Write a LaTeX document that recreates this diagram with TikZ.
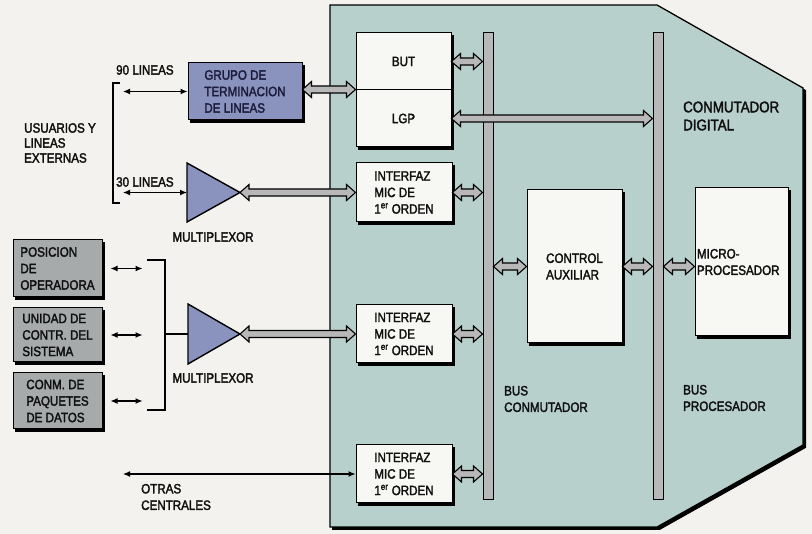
\documentclass[tikz,border=0pt]{standalone}
\usepackage{fontspec}
\setmainfont{Liberation Sans}[FakeStretch=0.86,FakeBold=2.2]
\usetikzlibrary{arrows.meta,calc}
\definecolor{bg}{HTML}{F3F2EE}
\definecolor{panel}{HTML}{B8D0CC}
\definecolor{boxw}{HTML}{F7F7F3}
\definecolor{blueg}{HTML}{8A93BE}
\definecolor{grayb}{HTML}{A7AAAB}
\definecolor{busg}{HTML}{B8B8B8}
\definecolor{navy}{HTML}{1C1C3C}
\definecolor{ink}{HTML}{101010}
\begin{document}
\begin{tikzpicture}[x=1pt,y=-1pt,
  lbl/.style={font=\fontsize{13.5}{16.5}\selectfont, align=left, inner sep=0pt, text=ink},
  sh/.style={preaction={fill=black, draw=black, line width=1pt, line join=miter, transform canvas={xshift=2.5pt,yshift=-2.5pt}}},
  boxbase/.style={draw=black, line width=1pt, sh, inner sep=0pt, align=left, text=ink,
    font=\fontsize{13.5}{16.5}\selectfont},
  wbox/.style={boxbase, fill=boxw},
  gbox/.style={boxbase, fill=grayb, minimum width=89pt},
  bbox/.style={boxbase, fill=blueg, text=navy},
  bus/.style={draw=black, line width=1pt, fill=busg, minimum width=10pt, minimum height=467pt, inner sep=0pt},
  mux/.style={draw=black, line width=1.4pt, fill=blueg, line join=miter},
  brk/.style={draw=black, line width=1.2pt},
  thinarr/.style={draw=black, line width=1.2pt, {Latex[length=7pt,width=6pt]}-{Latex[length=7pt,width=6pt]}},
  fat/.style={draw=black, line width=1.1pt, fill=busg, line join=miter,
    to path={let \p1=(\tikztostart), \p2=(\tikztotarget) in
      (\x1,\y1) -- (\x1+9pt,\y1+8pt) -- (\x1+9pt,\y1+3.5pt) -- (\x2-9pt,\y1+3.5pt) -- (\x2-9pt,\y1+8pt)
      -- (\x2,\y1) -- (\x2-9pt,\y1-8pt) -- (\x2-9pt,\y1-3.5pt) -- (\x1+9pt,\y1-3.5pt) -- (\x1+9pt,\y1-8pt) -- cycle}}
]
\fill[bg] (0,0) rectangle (812,534);
\useasboundingbox (0,0) rectangle (812,534);

% main panel
\draw[fill=panel, line width=1.3pt, line join=miter, sh]
  (330,5) -- (657,5) -- (803,88) -- (803,445) -- (657,527) -- (330,527) -- cycle;

% buses
\node[bus] (busc) at (488,266.5) {};
\node[bus] (busp) at (658,266.5) {};

% inner boxes
\node[wbox, minimum width=95pt, minimum height=57pt, align=center] (but) at (403.5,61.5) {BUT};
\node[wbox, minimum width=95pt, minimum height=57pt, align=center] (lgp) at (403.5,118.5) {LGP};
\node[wbox, minimum width=96pt, minimum height=59pt] (int1) at (404,192.5) {INTERFAZ\\MIC DE\\1\textsuperscript{er} ORDEN};
\node[wbox, minimum width=96pt, minimum height=58pt] (int2) at (404,334) {INTERFAZ\\MIC DE\\1\textsuperscript{er} ORDEN};
\node[wbox, minimum width=96pt, minimum height=58pt] (int3) at (404,474) {INTERFAZ\\MIC DE\\1\textsuperscript{er} ORDEN};
\node[wbox, minimum width=95pt, minimum height=153pt] (ctrl) at (574.5,266.5) {CONTROL\\AUXILIAR};
\node[wbox, minimum width=93pt, minimum height=148pt, text width=89pt] (micro) at (741.5,262) {MICRO-\\PROCESADOR};

% left blocks
\node[bbox, minimum width=114pt, minimum height=57pt] (grupo) at (245,91.5) {GRUPO DE\\TERMINACION\\DE LINEAS};
\node[gbox, minimum height=57pt] (pos) at (57.5,268.5) {POSICION\\DE\\OPERADORA};
\node[gbox, minimum height=54pt] (unid) at (57.5,335) {UNIDAD DE\\CONTR. DEL\\SISTEMA};
\node[gbox, minimum height=56pt] (conm) at (57.5,401) {CONM. DE\\PAQUETES\\DE DATOS};

% multiplexers
\draw[mux] (187,163) -- (240,192.5) -- (187,222) -- cycle;
\draw[mux] (188,304) -- (240,334) -- (188,364) -- cycle;
\coordinate (m1tip) at (240,192.5);
\coordinate (m1in) at (187,192.5);
\coordinate (m2tip) at (240,334);
\coordinate (m2in) at (188,334);

% fat double arrows
\draw[fat] (grupo.east |- lgp.north west) to (lgp.north west);
\draw[fat] (but.east) to (busc.west |- but.east);
\draw[fat] (lgp.east) to (busp.west |- lgp.east);
\draw[fat] (m1tip) to (int1.west);
\draw[fat] (int1.east) to (busc.west |- int1.east);
\draw[fat] (m2tip) to (int2.west);
\draw[fat] (int2.east) to (busc.west |- int2.east);
\draw[fat] (int3.east) to (busc.west |- int3.east);
\draw[fat] (busc.east |- ctrl.west) to (ctrl.west);
\draw[fat] (ctrl.east) to (busp.west |- ctrl.east);
\draw[fat] (busp.east |- ctrl.east) to (micro.west |- ctrl.east);

% brackets
\draw[brk] (120,83) -- (113,83) -- (113,203) -- (120,203);
\draw[brk] (147,260) -- (165,260) -- (165,410) -- (147,410);
\draw[brk] (165,334) -- (m2in);

% thin arrows
\coordinate (u90) at (123,91.5);
\coordinate (u30) at (123,192.5);
\coordinate (otr) at (123,474);
\draw[thinarr] (u90) -- (grupo.west);
\draw[thinarr] (u30) -- (m1in);
\draw[thinarr] (otr) -- (int3.west);
\draw[thinarr] ([xshift=8pt]pos.east) -- ([xshift=40pt]pos.east);
\draw[thinarr] ([xshift=8pt]unid.east) -- ([xshift=40pt]unid.east);
\draw[thinarr] ([xshift=8pt]conm.east) -- ([xshift=40pt]conm.east);

% labels
\node[lbl, anchor=west] (l90) at (116,70) {90 LINEAS};
\node[lbl, anchor=west] (l30) at (116,182) {30 LINEAS};
\node[lbl, anchor=west, font=\fontsize{13.5}{15}\selectfont] (usu) at (24,143) {USUARIOS Y\\LINEAS\\EXTERNAS};
\node[lbl] (mx1) at (213,237) {MULTIPLEXOR};
\node[lbl] (mx2) at (213,378) {MULTIPLEXOR};
\node[lbl, anchor=west] (otras) at (141,497) {OTRAS\\CENTRALES};
\node[lbl, anchor=west] (lbc) at (504,399) {BUS\\CONMUTADOR};
\node[lbl, anchor=west] (lbp) at (683,398) {BUS\\PROCESADOR};
\node[lbl, anchor=west, font=\fontsize{15.5}{18}\selectfont] (cd) at (683,116) {CONMUTADOR\\DIGITAL};
\end{tikzpicture}
\end{document}
